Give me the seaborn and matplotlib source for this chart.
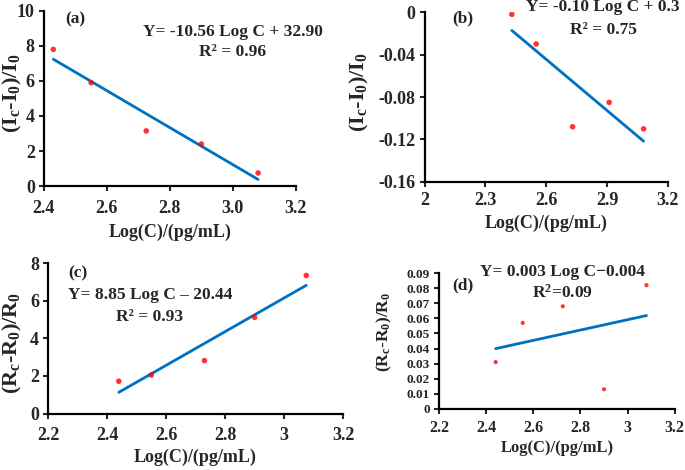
import numpy as np
import matplotlib
matplotlib.use('Agg')
import matplotlib.pyplot as plt
import seaborn as sns
from matplotlib.ticker import FuncFormatter

# data (log concentration vs response)
log_c = [2.43, 2.55, 2.725, 2.90, 3.08]
ic_a = [7.8, 5.9, 3.15, 2.4, 0.75]
log_c_b = [2.43, 2.55, 2.73, 2.91, 3.08]
ic_b = [-0.002, -0.030, -0.108, -0.085, -0.110]
log_c_c = [2.44, 2.55, 2.73, 2.90, 3.075]
rc_c = [1.72, 2.05, 2.82, 5.12, 7.35]
log_c_d = [2.44, 2.555, 2.725, 2.90, 3.08]
rc_d = [0.031, 0.057, 0.068, 0.013, 0.082]

eq_a = 'Y= -10.56 Log C + 32.90'
r2_a = 'R² = 0.96'
eq_b = 'Y= -0.10 Log C + 0.3'
r2_b = 'R² = 0.75'
eq_c = 'Y= 8.85 Log C – 20.44'
r2_c = 'R² = 0.93'
eq_d = 'Y= 0.003 Log C−0.004'
r2_d = 'R$^2$=0.09'

sns.set_style('ticks')
plt.rcParams['font.family'] = ['Liberation Serif', 'DejaVu Serif']
plt.rcParams['font.weight'] = 'bold'
plt.rcParams['mathtext.fontset'] = 'custom'
plt.rcParams['mathtext.rm'] = 'Liberation Serif:bold'
plt.rcParams['mathtext.it'] = 'Liberation Serif:bold'
plt.rcParams['mathtext.bf'] = 'Liberation Serif:bold'
plt.rcParams['mathtext.default'] = 'rm'

fig = plt.figure(figsize=(6.85, 4.7), dpi=100)
ax_a = fig.add_axes([0.064, 0.604, 0.368, 0.373])
ax_b = fig.add_axes([0.620, 0.613, 0.355, 0.361])
ax_c = fig.add_axes([0.070, 0.120, 0.431, 0.320])
ax_d = fig.add_axes([0.641, 0.130, 0.344, 0.289])

dots = dict(color='red', s=16, edgecolor='none', zorder=3)
line = dict(color='#0070C0', lw=2)
xlab = 'Log(C)/(pg/mL)'


def style(ax, xlim, xticks, ylim, yticks, xfmt, ylabel, ypos, xpad, lpad,
          yfs=13, xfs=13, lfs=16, xlfs=13):
    ax.set_xlim(xlim)
    ax.set_ylim(ylim)
    ax.set_xticks(xticks)
    ax.set_yticks(yticks)
    ax.xaxis.set_major_formatter(FuncFormatter(lambda v, p: xfmt.format(v)))
    ax.yaxis.set_major_formatter(FuncFormatter(lambda v, p: '{:g}'.format(round(v, 4))))
    ax.tick_params(axis='x', labelsize=xfs, width=1.5, length=3.5, direction='out', pad=xpad)
    ax.tick_params(axis='y', labelsize=yfs, width=1.5, length=3.5, direction='out', pad=3)
    for t in ax.get_xticklabels() + ax.get_yticklabels():
        t.set_fontweight('bold')
    for s in ['top', 'right']:
        ax.spines[s].set_visible(False)
    for s in ['left', 'bottom']:
        ax.spines[s].set_linewidth(1.6)
        ax.spines[s].set_color('black')
    ax.set_xlabel(xlab, fontsize=xlfs, fontweight='bold', labelpad=lpad)
    ax.set_ylabel(ylabel, fontsize=lfs, fontweight='bold', va='center')
    ax.yaxis.set_label_coords(*ypos)


# (a)
sns.regplot(x=log_c, y=ic_a, ax=ax_a, ci=None, scatter_kws=dots, line_kws=line)
style(ax_a, (2.4, 3.2), [2.4, 2.6, 2.8, 3.0, 3.2], (0, 10), [0, 2, 4, 6, 8, 10],
      '{:.1f}', r'(I$_{c}$-I$_{0}$)/I$_{0}$', (-0.125, 0.53), 6.5, 4.5)
ax_a.text(2.5, 9.5, '(a)', fontsize=12.5, fontweight='bold', ha='center', va='center')
ax_a.text(3.0, 8.8, eq_a, fontsize=12.5, fontweight='bold', ha='center', va='center')
ax_a.text(3.0, 7.65, r2_a, fontsize=12.5, fontweight='bold', ha='center', va='center')

# (b)
sns.regplot(x=log_c_b, y=ic_b, ax=ax_b, ci=None, scatter_kws=dots, line_kws=line)
style(ax_b, (2.0, 3.2), [2.0, 2.3, 2.6, 2.9, 3.2], (-0.16, 0), [-0.16, -0.12, -0.08, -0.04, 0],
      '{:g}', r'(I$_{c}$-I$_{0}$)/I$_{0}$', (-0.27, 0.53), 3.6, 4.5)
ax_b.text(2.19, -0.0056, '(b)', fontsize=12.5, fontweight='bold', ha='center', va='center')
ax_b.text(2.88, 0.005, eq_b, fontsize=12.5, fontweight='bold', ha='center', va='center', clip_on=False)
ax_b.text(2.88, -0.0165, r2_b, fontsize=12.5, fontweight='bold', ha='center', va='center')

# (c)
sns.regplot(x=log_c_c, y=rc_c, ax=ax_c, ci=None, scatter_kws=dots, line_kws=line)
style(ax_c, (2.2, 3.2), [2.2, 2.4, 2.6, 2.8, 3.0, 3.2], (0, 8), [0, 2, 4, 6, 8],
      '{:g}', r'(R$_{c}$-R$_{0}$)/R$_{0}$', (-0.12, 0.47), 6, 3.5)
ax_c.text(2.30, 7.45, '(c)', fontsize=12.5, fontweight='bold', ha='center', va='center')
ax_c.text(2.545, 6.3, eq_c, fontsize=12.5, fontweight='bold', ha='center', va='center')
ax_c.text(2.545, 5.15, r2_c, fontsize=12.5, fontweight='bold', ha='center', va='center')

# (d)
sns.regplot(x=log_c_d, y=rc_d, ax=ax_d, ci=None, scatter_kws=dict(dots, s=9), line_kws=line)
style(ax_d, (2.2, 3.2), [2.2, 2.4, 2.6, 2.8, 3.0, 3.2], (0, 0.09),
      [0, 0.01, 0.02, 0.03, 0.04, 0.05, 0.06, 0.07, 0.08, 0.09],
      '{:g}', r'(R$_{c}$-R$_{0}$)/R$_{0}$', (-0.23, 0.57), 4.5, 3,
      yfs=9.5, xfs=11.5, lfs=12.5, xlfs=12)
ax_d.text(2.30, 0.082, '(d)', fontsize=12.5, fontweight='bold', ha='center', va='center')
ax_d.text(2.725, 0.0905, eq_d, fontsize=12.5, fontweight='bold', ha='center', va='center', clip_on=False)
ax_d.text(2.725, 0.0768, r2_d, fontsize=12.5, fontweight='bold', ha='center', va='center')

fig.savefig('out.png', dpi=100)
